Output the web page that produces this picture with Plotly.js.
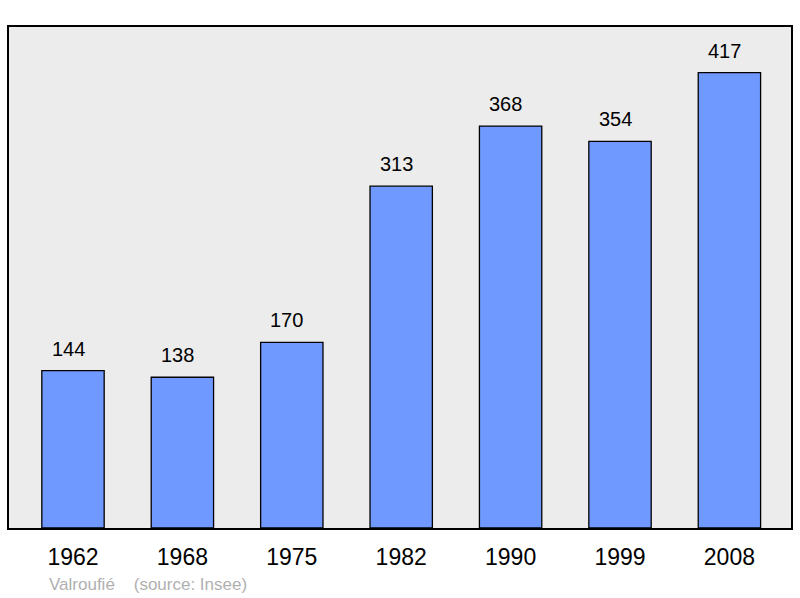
<!DOCTYPE html>
<html><head><meta charset="utf-8">
<script src="https://cdn.plot.ly/plotly-3.0.1.min.js"></script>
<style>html,body{margin:0;padding:0;background:#fff;}#c{width:800px;height:598px;}</style>
</head><body><div id="c"></div>
<script>
const years = ["1962","1968","1975","1982","1990","1999","2008"];
const population = [144,138,170,313,368,354,417];
const sourceText = "Valroufié\u00a0\u00a0\u00a0\u00a0(source: Insee)";

const trace = {
  type: 'bar', x: years, y: population,
  marker: {color: '#7099ff', line: {color: '#000', width: 1.3}},
  width: 0.57, hoverinfo: 'none'
};
const annotations = years.map((y, i) => ({
  x: i, y: population[i], xref: 'x', yref: 'y', text: String(population[i]),
  showarrow: false, yanchor: 'middle', yshift: 22, xshift: -5,
  font: {family: 'Liberation Sans, Arial, sans-serif', size: 20, color: '#000'}
}));
annotations.push({
  xref: 'paper', yref: 'paper', x: 38/782, y: -0.112, xanchor: 'left', yanchor: 'middle',
  text: sourceText, showarrow: false,
  font: {family: 'Liberation Sans, Arial, sans-serif', size: 17, color: '#b0b0b0'}
});
const layout = {
  width: 800, height: 598,
  margin: {l: 9, r: 9, t: 27, b: 70},
  paper_bgcolor: '#fff', plot_bgcolor: '#ececec',
  showlegend: false,
  xaxis: {type: 'category', range: [-0.585, 6.563], showline: true, mirror: true, linecolor: '#000', linewidth: 2,
          ticks: 'outside', ticklen: 7, tickcolor: 'rgba(0,0,0,0)', showgrid: false, zeroline: false,
          tickfont: {family: 'Liberation Sans, Arial, sans-serif', size: 23, color: '#000'}},
  yaxis: {range: [0, 458.7], showline: true, mirror: true, linecolor: '#000', linewidth: 2,
          showticklabels: false, ticks: '', showgrid: false, zeroline: false},
  annotations: annotations
};
Plotly.newPlot('c', [trace], layout, {staticPlot: true});
</script></body></html>
